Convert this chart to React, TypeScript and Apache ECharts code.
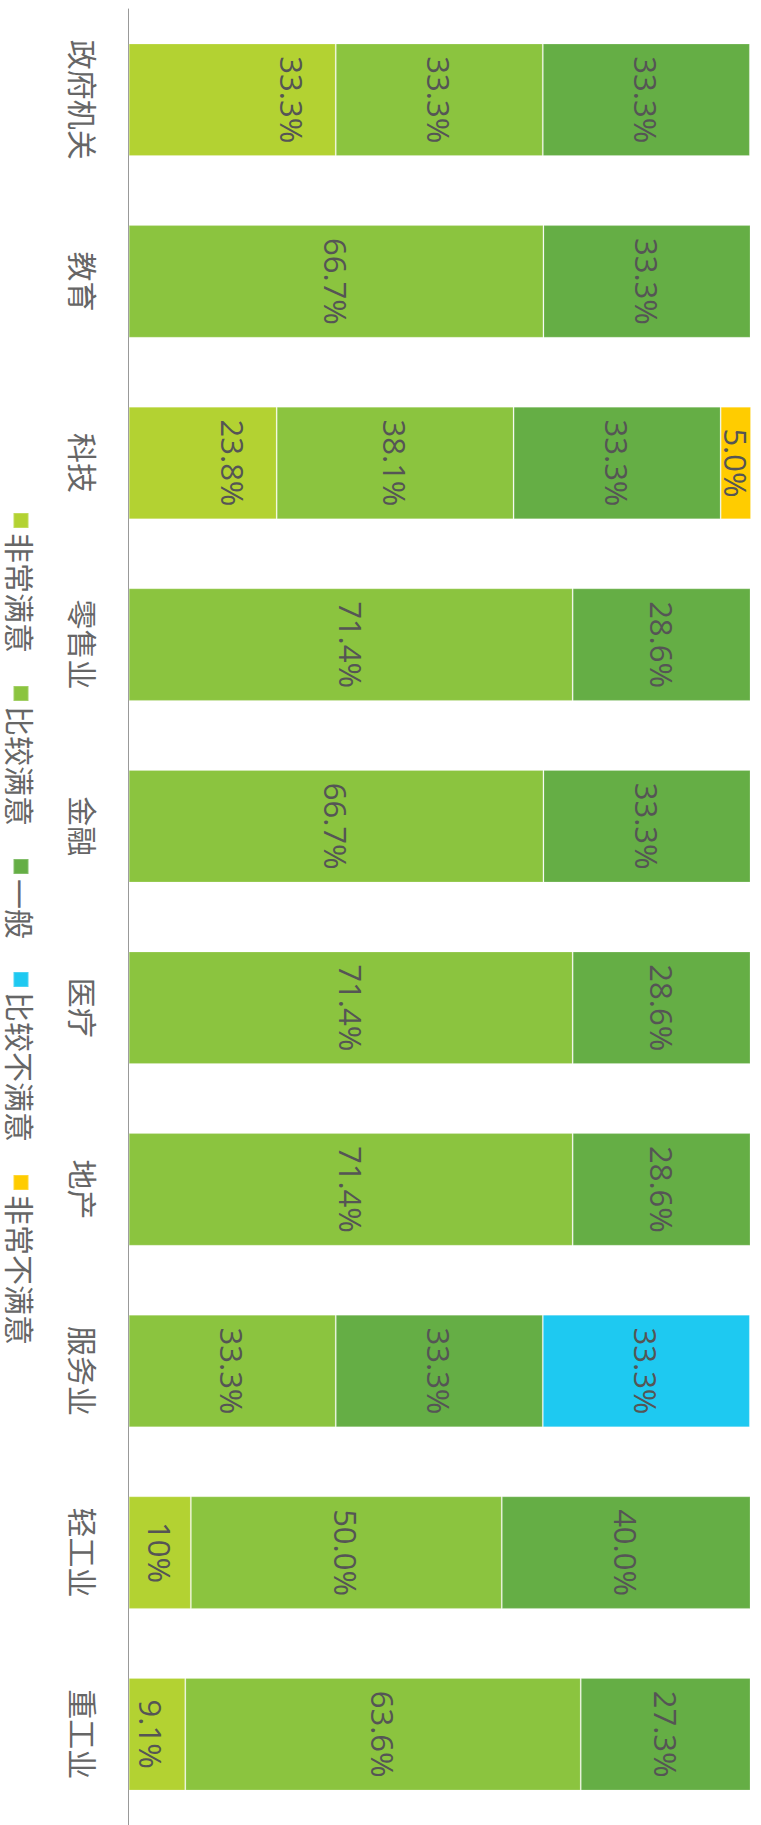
import React, { useEffect, useRef } from "react";
import * as echarts from "echarts";

const categories = ["政府机关", "教育", "科技", "零售业", "金融", "医疗", "地产", "服务业", "轻工业", "重工业"];
const seriesNames = ["非常满意", "比较满意", "一般", "比较不满意", "非常不满意"];
const verySatisfied = ["33.3", null, "23.8", null, null, null, null, null, "10", "9.1"];
const satisfied = ["33.3", "66.7", "38.1", "71.4", "66.7", "71.4", "71.4", "33.3", "50.0", "63.6"];
const neutral = ["33.3", "33.3", "33.3", "28.6", "33.3", "28.6", "28.6", "33.3", "40.0", "27.3"];
const dissatisfied = [null, null, null, null, null, null, null, "33.3", null, null];
const veryDissatisfied = [null, null, "5.0", null, null, null, null, null, null, null];
const colors = ["#b3d232", "#8bc43f", "#65ae45", "#1ec9f1", "#ffcc00"];

const CJK = "'Noto Sans CJK SC', 'Noto Sans', sans-serif";
const NUM = "'Open Sans', 'Noto Sans CJK SC', sans-serif";

export default function App() {
  const ref = useRef<HTMLDivElement>(null);
  useEffect(() => {
    if (!ref.current) return;
    const chart = echarts.init(ref.current, null, { renderer: "svg" });
    const values = [verySatisfied, satisfied, neutral, dissatisfied, veryDissatisfied];
    const series = values.map((arr, i) => {
      const s: any = {
        name: seriesNames[i],
        type: "bar",
        stack: "total",
        barWidth: "62%",
        data: arr.map((v) => (v == null ? "-" : v)),
        itemStyle: { color: colors[i], borderColor: "rgba(255,255,255,0.2)", borderWidth: 1 },
        label: {
          show: true,
          position: i === 0 ? "insideTop" : "inside",
          distance: 0,
          color: "#555",
          fontSize: 31,
          fontFamily: NUM,
          formatter: (p: any) => (p.data == null || p.data === "-" ? "" : p.data + "%"),
        },
      };
      if (i === 0) {
        s.labelLayout = (p: any) => ({
          dy: (p.labelRect.width - p.labelRect.height) / 2,
        });
      }
      return s;
    });
    chart.setOption({
      animation: false,
      color: colors,
      legend: {
        data: seriesNames,
        left: 512,
        top: 725,
        padding: 0,
        itemGap: 32,
        itemWidth: 15,
        itemHeight: 15,
        icon: "rect",
        textStyle: { fontSize: 30, lineHeight: 30, color: "#666", fontFamily: CJK },
      },
      grid: { left: 9, width: 1819, top: 10.5, bottom: 128.7, containLabel: false },
      xAxis: {
        type: "category",
        data: categories,
        axisLine: { lineStyle: { color: "#999", width: 1 } },
        axisTick: { show: false },
        axisLabel: { fontSize: 30, color: "#666", margin: 30, fontFamily: CJK },
      },
      yAxis: {
        type: "value",
        min: 0,
        max: 100,
        show: false,
        splitLine: { show: false },
      },
      series,
    });
    return () => chart.dispose();
  }, []);
  return (
    <div style={{ position: "fixed", left: 0, top: 0, width: 761, height: 1825, overflow: "hidden", background: "#fff" }}>
      <div
        ref={ref}
        style={{
          position: "absolute",
          left: 0,
          top: 0,
          width: 1825,
          height: 761,
          transformOrigin: "0 0",
          transform: "translate(761px, 0px) rotate(90deg)",
        }}
      />
    </div>
  );
}
